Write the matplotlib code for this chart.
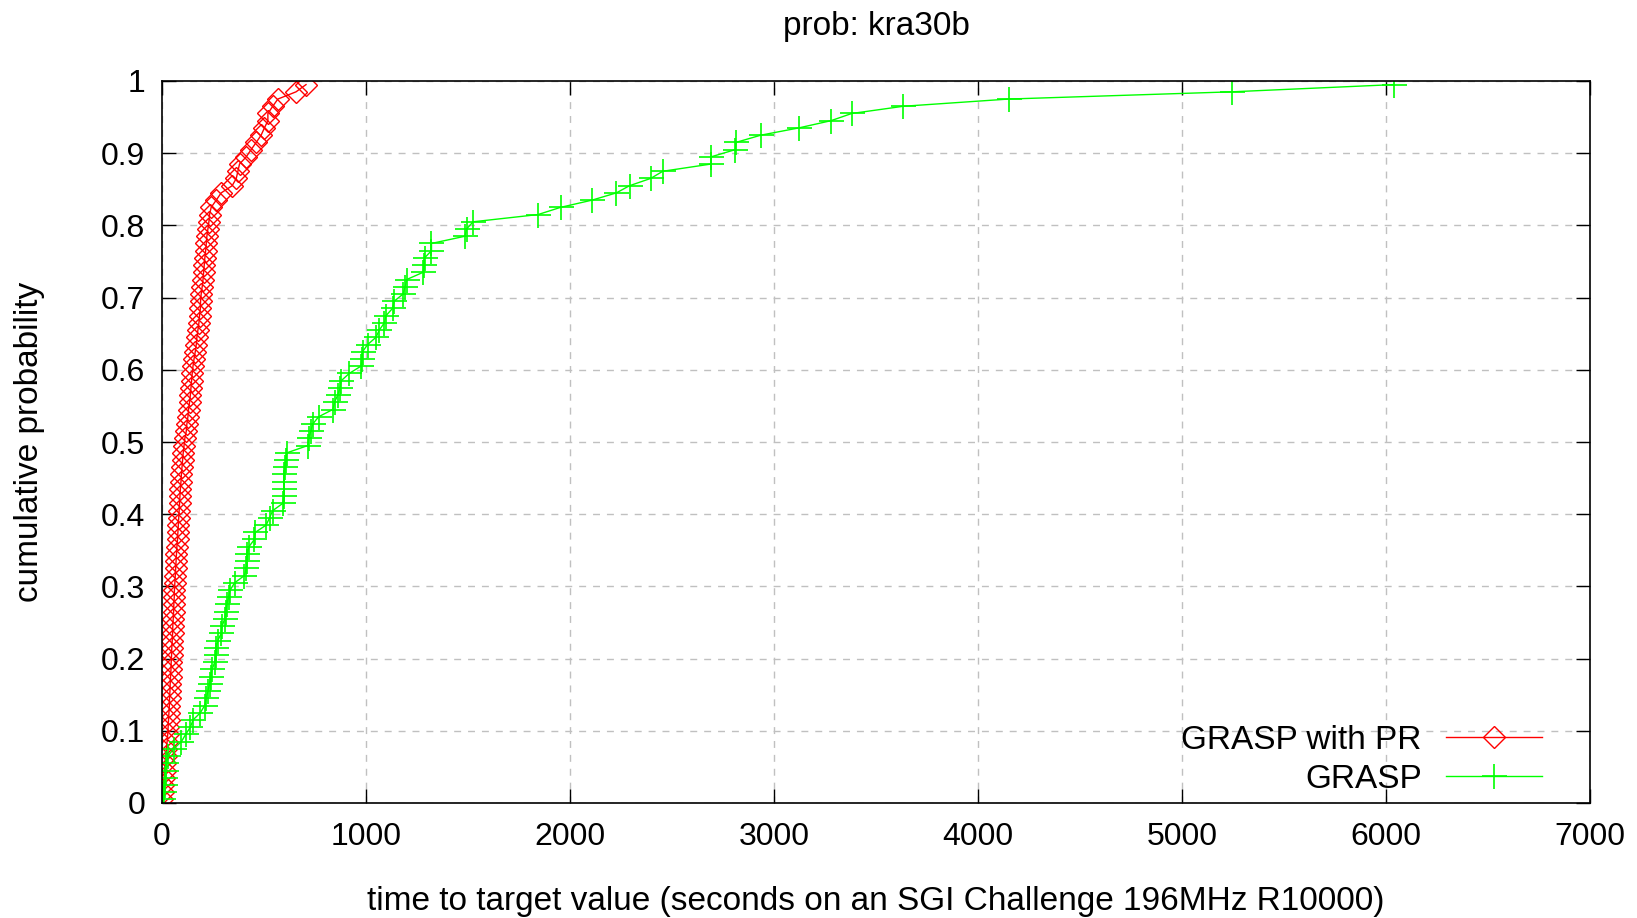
import numpy as np
import matplotlib
matplotlib.use('Agg')
import matplotlib.pyplot as plt

plt.rcParams['font.family'] = ['Liberation Sans', 'DejaVu Sans']

# cumulative probability levels, (i-0.5)/100
prob = [(i - 0.5) / 100 for i in range(1, 101)]

# GRASP with PR, sorted times (seconds)
t_pr = [1, 4, 7, 10, 13, 16, 19, 22, 25, 28,
        30, 32, 34, 36, 37, 39, 40, 42, 44, 45,
        47, 48, 50, 52, 53, 55, 57, 58, 60, 61,
        63, 65, 67, 69, 71, 73, 76, 78, 80, 82,
        84, 86, 88, 90, 93, 95, 98, 101, 104, 108,
        112, 119, 122, 127, 130, 135, 139, 142, 145, 148,
        152, 157, 163, 168, 171, 176, 181, 184, 188, 189,
        192, 197, 201, 204, 207, 210, 214, 217, 220, 225,
        230, 233, 241, 266, 290, 344, 364, 372, 380, 413,
        437, 462, 486, 502, 519, 519, 543, 568, 657, 706]

# GRASP, sorted times (seconds)
t_grasp = [5, 8, 13, 16, 18, 21, 29, 57, 95, 116,
           139, 152, 188, 209, 217, 225, 233, 238, 246, 258,
           263, 266, 274, 290, 295, 307, 312, 318, 326, 334,
           356, 404, 413, 416, 419, 426, 453, 458, 511, 527,
           543, 592, 597, 597, 599, 600, 603, 608, 612, 714,
           719, 729, 739, 768, 837, 846, 861, 873, 879, 918,
           975, 980, 983, 1008, 1049, 1065, 1090, 1098, 1130, 1138,
           1182, 1192, 1199, 1280, 1285, 1287, 1321, 1321, 1485, 1493,
           1525, 1843, 1954, 2108, 2227, 2292, 2395, 2455, 2692, 2692,
           2811, 2814, 2936, 3121, 3279, 3381, 3634, 4150, 5243, 6038]

fig = plt.figure(figsize=(16.37, 9.18), dpi=100)
ax = fig.add_axes([162 / 1637, 1 - 803 / 918, (1590 - 162) / 1637, (803 - 81) / 918])

ax.plot(t_pr, prob, color='#ff0000', lw=1, marker='D', ms=11, mfc='none',
        mec='#ff0000', mew=1, label='GRASP with PR')
ax.plot(t_grasp, prob, color='#00ff00', lw=1, marker='+', ms=18,
        mec='#00ff00', mew=1.2, label='GRASP')

ax.set_xlim(0, 7000)
ax.set_ylim(0, 1)
ax.set_xticks(np.arange(0, 7001, 1000))
ax.set_yticks(np.arange(0, 1.01, 0.1))
ax.set_yticklabels(['0', '0.1', '0.2', '0.3', '0.4', '0.5', '0.6', '0.7', '0.8', '0.9', '1'])
ax.tick_params(direction='in', length=10, width=1, labelsize=23, top=True, right=True)
ax.tick_params(axis='x', pad=14)
ax.tick_params(axis='y', pad=12)
ax.grid(True, color='#c0c0c0', linestyle=(0, (5, 5)), lw=1)
for s in ax.spines.values():
    s.set_linewidth(1.2)

ax.set_title('prob: kra30b', fontsize=24, pad=33)
ax.set_xlabel('time to target value (seconds on an SGI Challenge 196MHz R10000)', fontsize=24, labelpad=24)
ax.set_ylabel('cumulative probability', fontsize=24, labelpad=40)

leg = ax.legend(loc='lower right', bbox_to_anchor=(0.976, -0.007), frameon=False,
                markerfirst=False, fontsize=24, handlelength=2.9, borderaxespad=0,
                labelspacing=0.24, handletextpad=0.72)

fig.savefig('out.png', dpi=100)
